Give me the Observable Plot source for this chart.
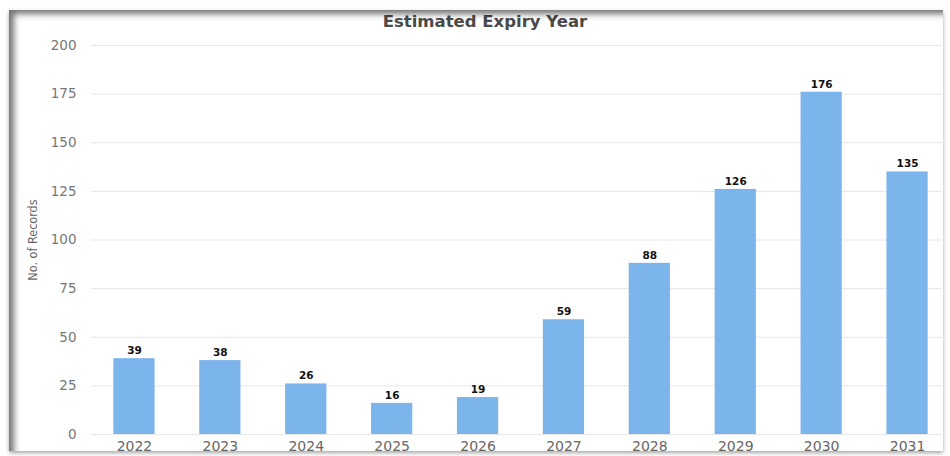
<!DOCTYPE html>
<html><head><meta charset="utf-8">
<script src="https://cdn.jsdelivr.net/npm/d3@7"></script>
<script src="https://cdn.jsdelivr.net/npm/@observablehq/plot@0.6"></script>
<style>
html,body{margin:0;padding:0;background:#fff;}
#wrap{position:relative;width:950px;height:456px;overflow:hidden;background:#fff;}
#frame{position:absolute;left:9px;top:10px;width:934px;height:441px;box-shadow:inset 6px 5px 6px -1px rgba(0,0,0,0.55), 0 2px 4px rgba(0,0,0,0.35);pointer-events:none;z-index:2;}
#title{position:absolute;left:0;top:12px;width:970px;text-align:center;font-family:"DejaVu Sans",sans-serif;font-size:16.5px;font-weight:bold;color:#4a4a4a;}
#chart{position:absolute;left:0;top:36px;}
</style></head>
<body><div id="wrap"><div id="frame"></div><div id="title">Estimated Expiry Year</div><div id="chart"></div></div>
<script>
const years = ["2022","2023","2024","2025","2026","2027","2028","2029","2030","2031"];
const records = [39,38,26,16,19,59,88,126,176,135];
const yTicks = [0,25,50,75,100,125,150,175,200];
const yLabel = "No. of Records";
const data = years.map((y,i)=>({year:y, n:records[i]}));
const plot = Plot.plot({
  width: 950, height: 420,
  marginLeft: 91, marginRight: 0, marginTop: 9, marginBottom: 22,
  style:{fontFamily:"DejaVu Sans, sans-serif", fontSize:"12px", color:"#666", background:"transparent"},
  x:{domain: years, paddingInner: 0.52, paddingOuter: 0.26, round: false, label:null},
  y:{domain:[0,200], label:null},
  marks:[
    Plot.ruleY(yTicks, {stroke:"#e6e6e6", insetRight: 8}),
    Plot.barY(data, {x:"year", y:"n", fill:"#7cb5ec"}),
    Plot.text(data, {x:"year", y:"n", text:d=>String(d.n), dy:-8, fontWeight:"bold", fill:"#111", fontSize:10.5}),
    Plot.axisY(yTicks, {tickSize:0, tickPadding:15, fill:"#777", fontSize:13.5, label:null}),
    Plot.axisX({tickSize:0, tickPadding:7, fill:"#666", fontSize:14, label:null}),
    Plot.text([yLabel], {frameAnchor:"left", textAnchor:"middle", dx:-59, rotate:-90, fill:"#666", fontSize:12.5, fontFamily:"Liberation Sans Narrow, DejaVu Sans Condensed, sans-serif"})
  ]
});
document.getElementById("chart").appendChild(plot);
</script></body></html>
